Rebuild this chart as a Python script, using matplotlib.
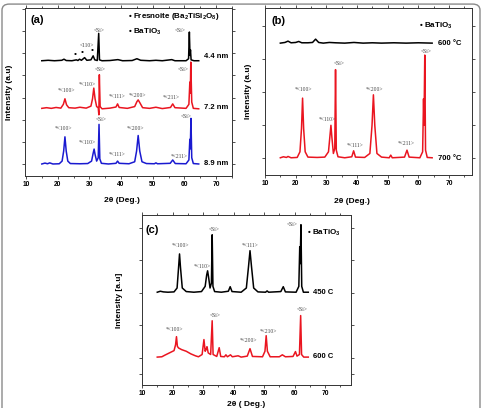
import matplotlib
matplotlib.use("Agg")
import matplotlib.pyplot as plt
from matplotlib.patches import FancyBboxPatch

plt.rcParams['font.family'] = ['Liberation Sans', 'DejaVu Sans']
plt.rcParams['mathtext.fontset'] = 'custom'
plt.rcParams['mathtext.rm'] = 'Liberation Sans:bold'
plt.rcParams['mathtext.it'] = 'Liberation Sans:bold'
plt.rcParams['mathtext.bf'] = 'Liberation Sans:bold'

# ---- panel (a): film thickness series (offset units) ----
a_blue_x = [15.0, 16.0, 16.8, 17.5, 18.5, 20.5, 21.4, 21.9, 22.3, 22.7, 23.2, 24.0, 27.0, 29.5,
            30.7, 31.2, 31.5, 31.8, 32.3, 32.8, 33.05, 33.3, 33.8, 36.0, 38.4, 38.9, 39.4, 42.5,
            44.3, 44.9, 45.4, 45.9, 46.6, 48.0, 50.5, 51.0, 51.5, 55.5, 56.3, 57.1, 60.5, 61.4,
            61.7, 61.85, 62.05, 62.3, 62.8, 64.5]
a_blue_y = [0.02, 0.06, 0.03, 0.07, 0.02, 0.03, 0.15, 0.6, 1.24, 0.6, 0.15, 0.04, 0.03, 0.04,
            0.15, 0.5, 0.69, 0.45, 0.15, 0.3, 1.8, 0.25, 0.05, 0.02, 0.05, 0.15, 0.05, 0.03,
            0.12, 0.6, 1.3, 0.6, 0.12, 0.04, 0.03, 0.07, 0.03, 0.05, 0.2, 0.04, 0.03, 0.2,
            1.13, 0.7, 2.07, 0.3, 0.04, 0.02]

a_red_x = [15.0, 16.5, 18.0, 19.5, 21.0, 21.8, 22.3, 22.8, 23.5, 25.5, 27.0, 29.0, 30.5, 31.0,
           31.4, 31.8, 32.3, 32.8, 33.0, 33.15, 33.4, 34.0, 36.5, 38.4, 38.9, 39.4, 42.0, 44.3,
           45.0, 45.4, 45.9, 46.8, 49.0, 51.0, 53.0, 55.6, 56.3, 57.0, 60.5, 61.4, 61.7, 61.85,
           62.0, 62.3, 62.8, 64.5]
a_red_y = [2.52, 2.55, 2.52, 2.56, 2.53, 2.7, 2.95, 2.68, 2.55, 2.53, 2.57, 2.53, 2.62, 2.95,
           3.43, 2.95, 2.6, 2.55, 2.23, 4.03, 2.6, 2.5, 2.53, 2.58, 2.72, 2.56, 2.52, 2.6,
           2.82, 2.9, 2.78, 2.55, 2.52, 2.57, 2.51, 2.56, 2.72, 2.55, 2.52, 2.7, 3.7, 3.2,
           4.6, 2.8, 2.52, 2.5]

a_black_x = [15.0, 17.0, 19.0, 21.3, 22.0, 22.7, 24.5, 25.9, 26.4, 26.9, 27.5, 28.5, 29.2, 30.5,
             31.2, 31.7, 32.5, 32.95, 33.2, 34.0, 36.5, 39.0, 40.5, 43.5, 45.0, 46.2, 49.0, 51.0,
             53.0, 56.0, 57.0, 60.5, 61.3, 61.55, 61.75, 61.9, 62.1, 63.0, 64.5]
a_black_y = [4.66, 4.68, 4.66, 4.68, 4.73, 4.67, 4.66, 4.7, 4.67, 4.73, 4.68, 4.8, 4.68, 4.7,
             4.88, 4.7, 4.67, 5.89, 4.7, 4.66, 4.67, 4.71, 4.66, 4.67, 4.75, 4.68, 4.66, 4.68,
             4.66, 4.71, 4.66, 4.66, 4.75, 5.95, 4.9, 5.15, 4.7, 4.66, 4.66]

# ---- panel (b): annealing temperature ----
b_red_x = [15.0, 16.0, 17.0, 17.5, 18.5, 20.5, 21.4, 21.9, 22.25, 22.6, 23.1, 24.0, 27.0, 29.5,
           30.7, 31.2, 31.5, 31.8, 32.3, 32.75, 33.0, 33.25, 33.8, 36.0, 38.3, 38.9, 39.5, 42.5,
           44.2, 44.9, 45.35, 45.8, 46.5, 48.0, 50.5, 51.0, 51.5, 55.5, 56.3, 57.0, 60.5, 61.4,
           61.7, 61.85, 62.1, 62.35, 62.9, 64.5]
b_red_y = [0.02, 0.05, 0.03, 0.06, 0.02, 0.03, 0.2, 0.9, 1.82, 0.9, 0.2, 0.04, 0.03, 0.04,
           0.2, 0.7, 1.0, 0.65, 0.15, 0.3, 2.68, 0.25, 0.05, 0.02, 0.05, 0.23, 0.04, 0.03,
           0.15, 1.0, 1.92, 1.0, 0.15, 0.04, 0.02, 0.1, 0.02, 0.04, 0.25, 0.04, 0.02, 0.2,
           1.8, 1.0, 3.12, 0.25, 0.03, 0.02]

b_black_x = [15.0, 16.5, 17.5, 18.5, 20.0, 21.0, 22.0, 24.0, 25.5, 26.5, 27.5, 29.0, 31.0, 33.0,
             36.0, 39.0, 42.0, 45.0, 48.0, 52.0, 56.0, 60.0, 64.5]
b_black_y = [3.48, 3.5, 3.54, 3.49, 3.5, 3.53, 3.49, 3.49, 3.5, 3.6, 3.5, 3.48, 3.5, 3.49,
             3.48, 3.5, 3.48, 3.49, 3.48, 3.49, 3.48, 3.49, 3.48]

# ---- panel (c) ----
c_black_x = [15.0, 16.0, 17.0, 18.5, 20.5, 21.5, 22.0, 22.3, 22.6, 23.2, 24.5, 27.0, 29.5, 30.7,
             31.2, 31.5, 31.8, 32.3, 32.75, 33.0, 33.25, 33.8, 36.0, 38.3, 38.9, 39.5, 42.5, 44.2,
             44.9, 45.4, 45.9, 46.6, 48.0, 50.5, 51.0, 51.5, 55.5, 56.3, 57.0, 60.5, 61.4, 61.7,
             61.85, 62.1, 62.35, 62.9, 64.5]
c_black_y = [2.02, 2.05, 2.03, 2.02, 2.03, 2.15, 2.8, 3.2, 2.8, 2.15, 2.04, 2.02, 2.04, 2.2,
             2.55, 2.68, 2.5, 2.15, 2.3, 3.79, 2.2, 2.04, 2.02, 2.05, 2.19, 2.04, 2.02, 2.15,
             2.8, 3.3, 2.8, 2.15, 2.03, 2.02, 2.06, 2.02, 2.04, 2.19, 2.03, 2.02, 2.2, 3.42,
             2.9, 4.1, 2.2, 2.02, 2.02]

c_red_x = [15.0, 16.5, 17.5, 19.0, 20.5, 21.0, 21.3, 21.6, 22.0, 23.0, 24.5, 26.0, 27.5, 28.5,
           29.7, 30.3, 30.7, 31.0, 31.3, 31.7, 32.5, 33.0, 33.3, 34.5, 35.3, 35.8, 37.0, 37.5,
           38.0, 39.0, 39.6, 41.5, 42.5, 44.5, 45.4, 46.2, 49.5, 50.3, 50.7, 51.1, 52.0, 55.0,
           56.0, 57.0, 59.5, 60.3, 60.8, 61.6, 62.0, 62.3, 63.0, 64.5]
c_red_y = [0.02, 0.03, 0.08, 0.15, 0.22, 0.4, 0.65, 0.35, 0.3, 0.25, 0.2, 0.12, 0.06, 0.03,
           0.1, 0.56, 0.2, 0.25, 0.34, 0.15, 0.1, 1.14, 0.1, 0.04, 0.31, 0.04, 0.03, 0.09,
           0.03, 0.09, 0.03, 0.06, 0.02, 0.05, 0.28, 0.04, 0.03, 0.2, 0.68, 0.2, 0.03, 0.03,
           0.09, 0.03, 0.04, 0.19, 0.05, 0.1, 1.3, 0.1, 0.02, 0.02]

# peak labels: (text, 2theta, offset height)
a_peaks = [('*<100>', 22.7, 3.32), ('*<110>', 29.5, 3.57), ('<Si>', 33.3, 4.25),
           ('*<111>', 38.6, 3.05), ('*<200>', 45.2, 3.11), ('*<211>', 55.7, 3.0),
           ('<Si>', 59.6, 4.28),
           ('*<100>', 21.7, 1.63), ('*<110>', 29.5, 1.0), ('<Si>', 33.7, 2.03),
           ('*<111>', 38.9, 0.43), ('*<200>', 44.7, 1.61), ('*<211>', 58.3, 0.35),
           ('<Si>', 60.4, 2.15),
           ('<110>', 29.2, 5.34), ('<Si>', 33.2, 6.04), ('<Si>', 58.8, 6.04)]
b_peaks = [('*<100>', 22.5, 2.07), ('*<110>', 30.3, 1.17), ('<Si>', 34.1, 2.85),
           ('*<111>', 39.3, 0.4), ('*<200>', 45.6, 2.07), ('*<211>', 56.2, 0.45),
           ('<Si>', 62.7, 3.22)]
c_peaks = [('*<100>', 22.5, 3.46), ('*<110>', 29.6, 2.81), ('<Si>', 33.7, 3.96),
           ('*<111>', 45.4, 3.46), ('<Si>', 59.3, 4.1),
           ('*<100>', 20.8, 0.88), ('<Si>', 33.9, 1.3), ('*<200>', 44.9, 0.52),
           ('*<210>', 51.4, 0.8), ('<Si>', 62.6, 1.5)]
fresnoite_marks = [(25.4, 4.92), (27.8, 5.01), (30.9, 5.12)]

RED = '#ea1520'
BLUE = '#1a1ad0'
W, H = 485, 408

fig = plt.figure(figsize=(4.85, 4.08), dpi=100)
fig.patches.append(FancyBboxPatch((2 / W, -0.05), 478 / W, 1.04, boxstyle='round,pad=0,rounding_size=0.015',
                                  transform=fig.transFigure, fill=False, ec='#8a8a8a', lw=1.0))


def make_ax(l, t, r, b, xlim, ylim, yticks, ylabel, ylab_x, xlab_y, xlab_x=0.5):
    ax = fig.add_axes([l / W, 1 - b / H, (r - l) / W, (b - t) / H])
    ax.set_xlim(*xlim)
    ax.set_ylim(*ylim)
    ax.set_xticks([10, 20, 30, 40, 50, 60, 70])
    ax.set_xticks([15, 25, 35, 45, 55, 65, 75], minor=True)
    ax.set_yticks(yticks)
    ax.set_yticklabels([])
    ax.tick_params(which='both', direction='out', top=True, right=True, length=2.2, width=0.6,
                   labelsize=4.8, pad=1.5, color='#333333')
    ax.tick_params(which='minor', length=1.5)
    for lab in ax.get_xticklabels():
        lab.set_fontweight('bold')
    for s in ax.spines.values():
        s.set_linewidth(0.7)
        s.set_color('#333333')
    ax.set_ylabel(ylabel, fontsize=6, fontweight='bold')
    ax.yaxis.set_label_coords(ylab_x, 0.5)
    ax.set_xlabel('2θ (Deg.)' if ylabel.endswith(')') else '2θ ( Deg.)', fontsize=6, fontweight='bold')
    ax.xaxis.set_label_coords(xlab_x, xlab_y)
    return ax


def peak_labels(ax, peaks):
    for txt, x, y in peaks:
        ax.text(x, y, txt, fontsize=4.0, family='Liberation Serif', color='#404040',
                ha='center', va='center')


# (a)
ax = make_ax(25, 8, 232, 176, (9.7, 74.6), (-0.52, 7.03), range(0, 8), 'Intensity (a.u)', -0.06, -0.125, 0.47)
ax.plot(a_black_x, a_black_y, color='black', lw=1.1)
ax.plot(a_red_x, a_red_y, color=RED, lw=1.1)
ax.plot(a_blue_x, a_blue_y, color=BLUE, lw=1.1)
peak_labels(ax, a_peaks)
for x, y in fresnoite_marks:
    ax.text(x, y, '•', fontsize=6, ha='center', va='center')
ax.text(11.3, 6.49, '(a)', fontsize=8, fontweight='bold', va='center')
ax.text(42.1, 6.63, '• Fresnoite (Ba$_2$TiSi$_2$O$_8$)', fontsize=5.8, fontweight='bold', va='center')
ax.text(42.1, 5.96, '• BaTiO$_3$', fontsize=5.8, fontweight='bold', va='center')
ax.text(66.1, 4.83, '4.4 nm', fontsize=5.5, fontweight='bold', va='center')
ax.text(66.1, 2.58, '7.2 nm', fontsize=5.5, fontweight='bold', va='center')
ax.text(66.1, 0.02, '8.9 nm', fontsize=5.5, fontweight='bold', va='center')

# (b)
ax = make_ax(265, 8, 472, 175, (10, 77.5), (-0.5, 4.54), range(0, 5), 'Intensity (a.u)', -0.063, -0.14, 0.42)
ax.plot(b_black_x, b_black_y, color='black', lw=1.1)
ax.plot(b_red_x, b_red_y, color=RED, lw=1.1)
peak_labels(ax, b_peaks)
ax.text(12.2, 4.15, '(b)', fontsize=8, fontweight='bold', va='center')
ax.text(60.2, 4.0, '• BaTiO$_3$', fontsize=5.8, fontweight='bold', va='center')
ax.text(66.5, 3.48, '600 °C', fontsize=5.5, fontweight='bold', va='center')
ax.text(66.5, 0.0, '700 °C', fontsize=5.5, fontweight='bold', va='center')

# (c)
ax = make_ax(142, 215, 351, 385, (10, 78.5), (-0.84, 4.4), [-0.5, 0, 1, 2, 3, 4], 'Intensity [a.u]', -0.09, -0.095, 0.5)
ax.plot(c_black_x, c_black_y, color='black', lw=1.1)
ax.plot(c_red_x, c_red_y, color=RED, lw=1.1)
peak_labels(ax, c_peaks)
ax.text(11.3, 3.94, '(c)', fontsize=8, fontweight='bold', va='center')
ax.text(64.0, 3.84, '• BaTiO$_3$', fontsize=5.8, fontweight='bold', va='center')
ax.text(66.2, 2.0, '450 C', fontsize=5.5, fontweight='bold', va='center')
ax.text(66.2, 0.03, '600 C', fontsize=5.5, fontweight='bold', va='center')

fig.savefig('out.png', dpi=100)
